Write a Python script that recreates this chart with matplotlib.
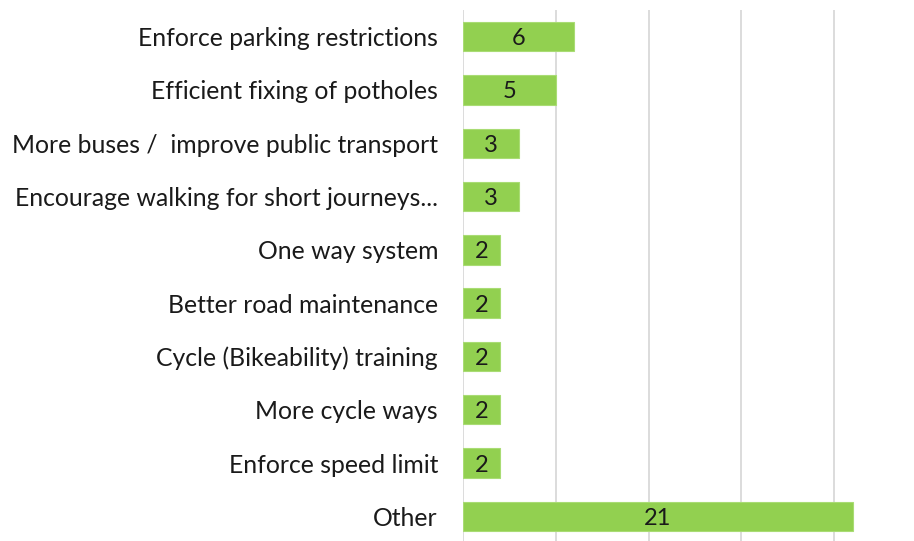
import numpy as np
import matplotlib.pyplot as plt

plt.rcParams['font.family'] = ['Lato', 'DejaVu Sans']

labels = ["Enforce parking restrictions",
          "Efficient fixing of potholes",
          "More buses /  improve public transport",
          "Encourage walking for short journeys...",
          "One way system",
          "Better road maintenance",
          "Cycle (Bikeability) training",
          "More cycle ways",
          "Enforce speed limit",
          "Other"]
counts = [6, 5, 3, 3, 2, 2, 2, 2, 2, 21]

fig = plt.figure(figsize=(9.14, 5.41), dpi=100)
ax = fig.add_axes([463/914, -2/541, 451/914, 533/541])

y = np.arange(len(labels))
bars = ax.barh(y, counts, height=0.55, color="#92D050", edgecolor="#A9DC74", linewidth=0.8, zorder=3)
for b, v in zip(bars, counts):
    ax.text(b.get_width()/2, b.get_y() + b.get_height()/2, str(v),
            ha="center", va="center_baseline", fontsize=17, color="#1a1a1a", zorder=4)

ax.set_ylim(len(labels) - 0.5, -0.5)
ax.set_xlim(0, 451/18.56)
ax.set_yticks(y)
ax.set_yticklabels(labels, fontsize=17.8, color="#1a1a1a")
ax.tick_params(axis="y", length=0, pad=18)
ax.set_xticks([0, 5, 10, 15, 20])
ax.tick_params(axis="x", length=0, labelbottom=False)
ax.grid(axis="x", color="#D9D9D9", linewidth=1.3, zorder=0)
for s in ax.spines.values():
    s.set_visible(False)

fig.savefig("out.png", dpi=100)
